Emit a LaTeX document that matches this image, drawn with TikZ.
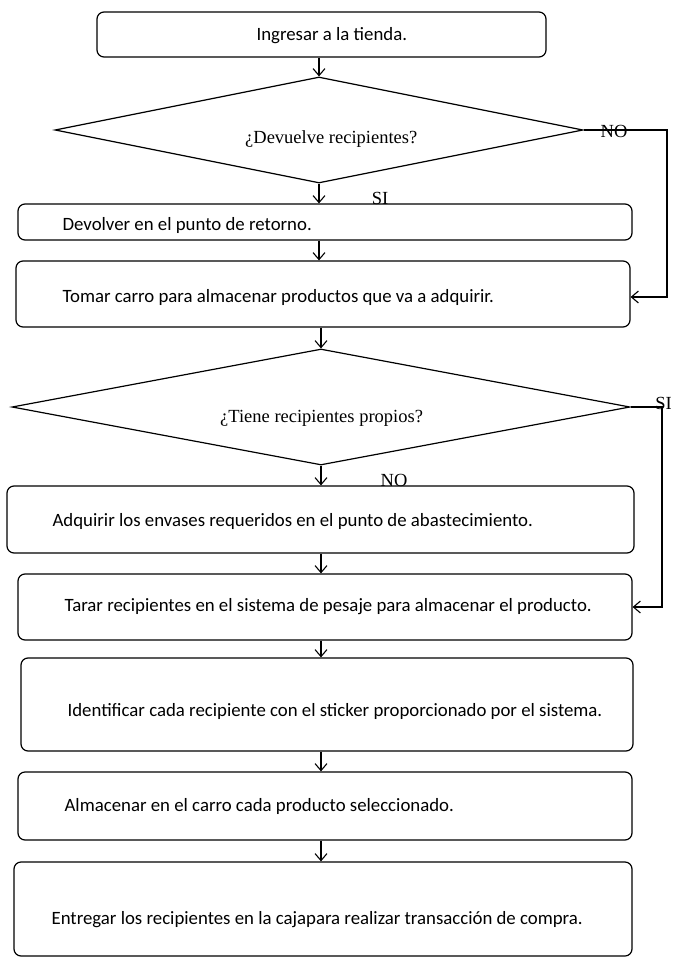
\documentclass[tikz,border=0pt]{standalone}
\usepackage{fontspec}
\setmainfont{Carlito}
\newfontfamily\qfont{Liberation Serif}
\usetikzlibrary{shapes.geometric}
\usetikzlibrary{arrows.meta}

\begin{document}
\begin{tikzpicture}[x=1pt,y=-1pt,
        stepbox/.style={draw,line width=1.2pt,rounded corners=7pt,inner sep=0pt},
        steptext/.style={anchor=west,inner sep=0pt,font=\fontsize{18.8}{22}\selectfont},
        decision/.style={draw,diamond,line width=1.2pt,inner sep=0pt},
        qtext/.style={font=\qfont\fontsize{18.5}{21}\selectfont,inner sep=0pt},
        flow/.style={line width=1.1pt,-{Straight Barb[length=7pt,width=12pt]}}]
        \useasboundingbox (0,0) rectangle (673,958);

        % Boxes
        \node[stepbox,minimum width=449,minimum height=45] (ingresar) at (321.5,34.5) {};
        \node[stepbox,minimum width=614,minimum height=36] (devolver) at (325,222) {};
        \node[stepbox,minimum width=614,minimum height=66] (tomar) at (323,294) {};
        \node[stepbox,minimum width=627,minimum height=67] (adquirir) at (320.5,519.5) {};
        \node[stepbox,minimum width=614,minimum height=66] (tarar) at (325,607) {};
        \node[stepbox,minimum width=612,minimum height=93] (identificar) at (327,704.5) {};
        \node[stepbox,minimum width=614,minimum height=68] (almacenar) at (325,806) {};
        \node[stepbox,minimum width=618,minimum height=94] (entregar) at (323,909) {};

        % Box texts
        \node[steptext] (ingresartxt) at ([xshift=160,yshift=-1]ingresar.west) {Ingresar a la tienda.};
        \node[steptext] (devolvertxt) at ([xshift=45,yshift=-3]devolver.west) {Devolver en el punto de retorno.};
        \node[steptext] (tomartxt) at ([xshift=47,yshift=-3]tomar.west) {Tomar carro para almacenar productos que va a adquirir.};
        \node[steptext] (adquirirtxt) at ([xshift=46,yshift=-2]adquirir.west) {Adquirir los envases requeridos en el punto de abastecimiento.};
        \node[steptext] (tarartxt) at ([xshift=47]tarar.west) {Tarar recipientes en el sistema de pesaje para almacenar el producto.};
        \node[steptext] (identificartxt) at ([xshift=47,yshift=-7]identificar.west) {Identificar cada recipiente con el sticker proporcionado por el sistema.};
        \node[steptext] (almacenartxt) at ([xshift=47]almacenar.west) {Almacenar en el carro cada producto seleccionado.};
        \node[steptext] (entregartxt) at ([xshift=38,yshift=-11]entregar.west) {Entregar los recipientes en la cajapara realizar transacción de compra.};

        % Diamonds
        \node[decision,minimum width=528,minimum height=106] (devuelve) at (319,130) {};
        \node[qtext,anchor=west] (devuelvetxt) at (245,139) {¿Devuelve recipientes?};
        \node[decision,minimum width=618,minimum height=116] (propios) at (321,407) {};
        \node[qtext,anchor=west] (propiostxt) at (220,418) {¿Tiene recipientes propios?};

        % Down arrows
        \draw[flow] (devuelve.north |- ingresar.south) -- (devuelve.north);
        \draw[flow] (devuelve.south) -- (devuelve.south |- devolver.north);
        \draw[flow] (devuelve.south |- devolver.south) -- (devuelve.south |- tomar.north);
        \draw[flow] (propios.north |- tomar.south) -- (propios.north);
        \draw[flow] (propios.south) -- (propios.south |- adquirir.north);
        \draw[flow] (propios.south |- adquirir.south) -- (propios.south |- tarar.north);
        \draw[flow] (propios.south |- tarar.south) -- (propios.south |- identificar.north);
        \draw[flow] (propios.south |- identificar.south) -- (propios.south |- almacenar.north);
        \draw[flow] (propios.south |- almacenar.south) -- (propios.south |- entregar.north);

        % Side branches
        \coordinate (noturn) at (667,130);
        \coordinate (siturn) at (662,407);
        \draw[flow] (devuelve.east) -- (noturn) |- ([yshift=-3]tomar.east);
        \draw[flow] (propios.east) -- (siturn) |- (tarar.east);

        % Labels
        \node[qtext] (nolabel) at (614,131) {NO};
        \node[qtext] (silabel) at (380,198) {SI};
        \node[qtext] (silabeltwo) at (663.5,403) {SI};
        \node[qtext] (nolabeltwo) at (394,480) {NO};
\end{tikzpicture}
\end{document}
